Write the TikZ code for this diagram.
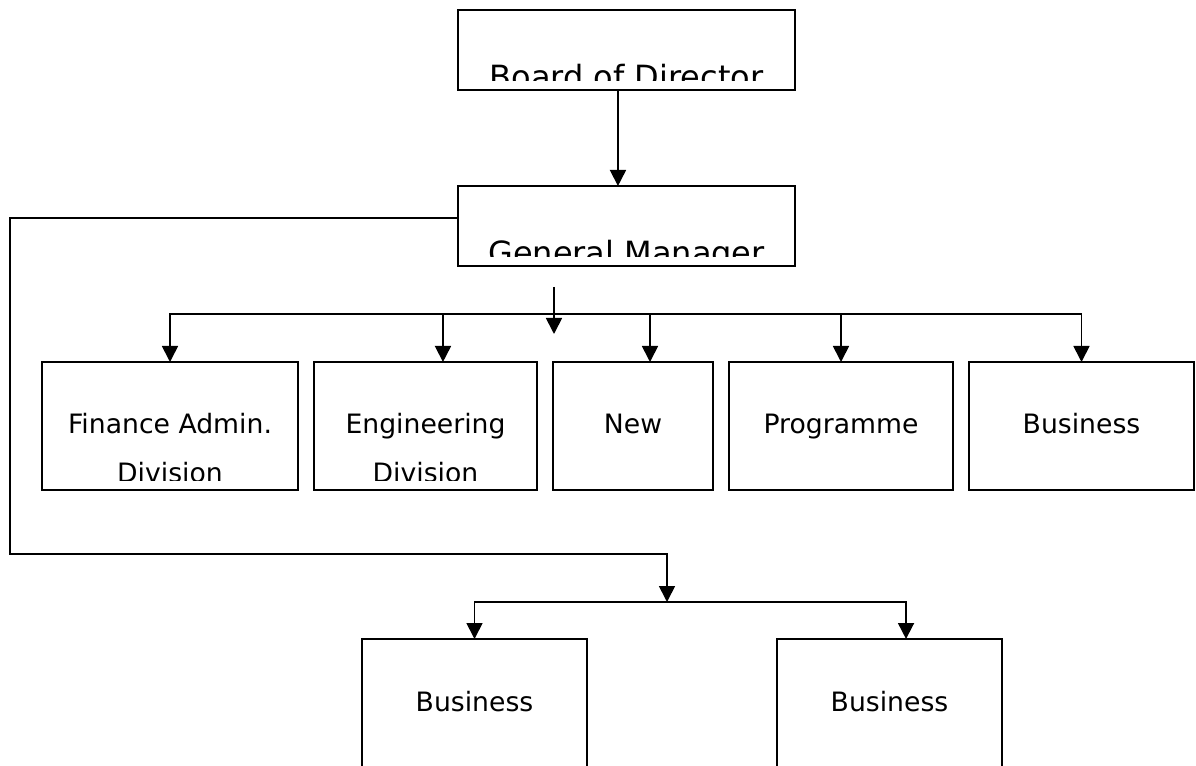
\documentclass[tikz,border=0pt]{standalone}
\usepackage{fontspec}
\setmainfont{DejaVu Sans}
\usetikzlibrary{positioning,arrows.meta}

\begin{document}
\begin{tikzpicture}[x=0.75pt, y=-0.75pt,
boxnode/.style={rectangle, draw=black, line width=1.3pt, inner sep=0pt, outer sep=0pt},
topnode/.style={boxnode, minimum width=252.75pt, minimum height=60pt},
divnode/.style={boxnode, minimum height=96pt},
lownode/.style={boxnode, minimum width=168.75pt, minimum height=120pt},
textnode/.style={inner sep=0pt, align=center, anchor=base, font=\fontsize{20}{36}\selectfont},
toptext/.style={textnode, font=\fontsize{24}{28}\selectfont},
link/.style={line width=1.3pt, -{Triangle[length=12pt, width=12pt]}},
]
\useasboundingbox (0,0) rectangle (1196,766);

%Nodes
\node[topnode]      (board)        at (626.5,50)   {};
\node[topnode]      (gm)           at (626.5,226)  {};
\node[divnode, minimum width=192pt]     (finance)      at (170,426)    {};
\node[divnode, minimum width=167.25pt]  (engineering)  [right=12pt of finance]      {};
\node[divnode, minimum width=120pt]     (new)          [right=12pt of engineering]  {};
\node[divnode, minimum width=168pt]     (programme)    [right=12pt of new]          {};
\node[divnode, minimum width=168.75pt]  (business)     [right=12pt of programme]    {};
\node[lownode]      (busleft)      at (474.5,719)  {};
\node[lownode]      (busright)     at (889.5,719)  {};

\coordinate (gmdrop)     at (554,287);
\coordinate (dropend)    at (554,334);
\coordinate (rowbus)     at (554,314);
\coordinate (loopcorner) at (10,554);
\coordinate (lowbus)     at (667,602);

%Labels
\begin{scope}
\clip (board.north west) rectangle ([yshift=6.75pt]board.south east);
\node[toptext] (boardlabel) at ([yshift=-59.25pt]board.north) {Board of Director};
\end{scope}
\begin{scope}
\clip (gm.north west) rectangle ([yshift=6.75pt]gm.south east);
\node[toptext] (gmlabel) at ([yshift=-59.25pt]gm.north) {General Manager};
\end{scope}
\begin{scope}
\clip (finance.north west) rectangle ([yshift=7.5pt]finance.south east);
\node[textnode] (financelabel) at ([yshift=-90pt]finance.north) {Finance Admin.\\Division};
\end{scope}
\begin{scope}
\clip (engineering.north west) rectangle ([yshift=7.5pt]engineering.south east);
\node[textnode] (engineeringlabel) at ([yshift=-90pt]engineering.north) {Engineering\\Division};
\end{scope}
\node[textnode] (newlabel)       at ([yshift=-54pt]new.north)       {New};
\node[textnode] (programmelabel) at ([yshift=-54pt]programme.north) {Programme};
\node[textnode] (businesslabel)  at ([yshift=-54pt]business.north)  {Business};
\node[textnode] (busleftlabel)   at ([yshift=-54pt]busleft.north)   {Business};
\node[textnode] (busrightlabel)  at ([yshift=-54pt]busright.north)  {Business};

%Lines
\draw[link] ([xshift=-6.4pt]board.south) -- ([xshift=-6.4pt]gm.north);
\draw[link] (gmdrop) -- (dropend);
\draw[link] (rowbus) -| (finance.north);
\draw[link] (rowbus) -| ([xshift=13.1pt]engineering.north);
\draw[link] (rowbus) -| ([xshift=12.75pt]new.north);
\draw[link] (rowbus) -| (programme.north);
\draw[link] (rowbus) -| (business.north);
\draw[link] ([yshift=6pt]gm.west) -| (loopcorner) -| (lowbus);
\draw[link] (lowbus) -| (busleft.north);
\draw[link] (lowbus) -| ([xshift=12.4pt]busright.north);
\end{tikzpicture}
\end{document}
